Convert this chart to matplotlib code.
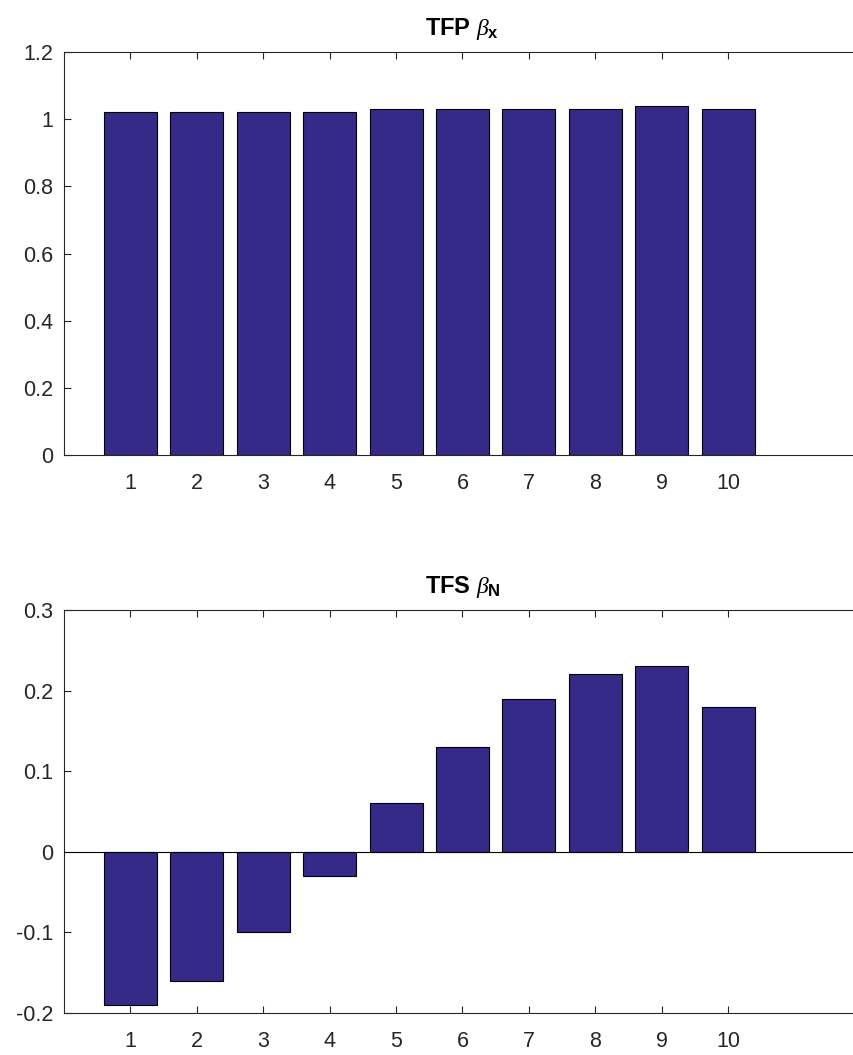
import matplotlib
matplotlib.use('Agg')
import matplotlib.pyplot as plt
import numpy as np

plt.rcParams['font.family'] = ['Liberation Sans', 'DejaVu Sans']
plt.rcParams['mathtext.fontset'] = 'custom'
plt.rcParams['mathtext.rm'] = 'Liberation Sans'
plt.rcParams['mathtext.it'] = 'Liberation Serif:italic'
plt.rcParams['mathtext.bf'] = 'Liberation Sans:bold'

deciles = np.arange(1, 11)
tfp_beta = [1.02, 1.02, 1.02, 1.02, 1.03, 1.03, 1.03, 1.03, 1.04, 1.03]
tfs_beta = [-0.19, -0.16, -0.10, -0.03, 0.06, 0.13, 0.19, 0.22, 0.23, 0.18]

bar_col = '#352a87'
axis_col = '#262626'

fig = plt.figure(figsize=(8.54, 10.55), dpi=100)
ax1 = fig.add_axes([64 / 854, 1 - 455 / 1055, 797 / 854, 403 / 1055])
ax2 = fig.add_axes([64 / 854, 1 - 1013 / 1055, 797 / 854, 403 / 1055])

def style(ax, ylim, yticks, ylabels):
    ax.set_xlim(0, 12)
    ax.set_ylim(*ylim)
    ax.set_xticks(deciles)
    ax.set_yticks(yticks)
    ax.set_yticklabels(ylabels)
    ax.tick_params(direction='in', top=True, right=True, length=5, width=0.8,
                   color=axis_col, labelsize=15.5, labelcolor=axis_col)
    ax.tick_params(axis='x', pad=13)
    ax.tick_params(axis='y', pad=8)
    for s in ax.spines.values():
        s.set_color(axis_col)
        s.set_linewidth(0.8)

ax1.bar(deciles, tfp_beta, width=0.8, color=bar_col, edgecolor='k', linewidth=0.8, zorder=2)
style(ax1, (0, 1.2), [0, 0.2, 0.4, 0.6, 0.8, 1.0, 1.2], ['0', '0.2', '0.4', '0.6', '0.8', '1', '1.2'])
ax1.set_title(r'TFP $\beta_\mathbf{x}$', fontsize=17, fontweight='bold', pad=12)

ax2.bar(deciles, tfs_beta, width=0.8, color=bar_col, edgecolor='k', linewidth=0.8, zorder=2)
ax2.axhline(0, color='k', linewidth=0.8, zorder=3)
style(ax2, (-0.2, 0.3), [-0.2, -0.1, 0, 0.1, 0.2, 0.3], ['-0.2', '-0.1', '0', '0.1', '0.2', '0.3'])
ax2.set_title(r'TFS $\beta_\mathbf{N}$', fontsize=17, fontweight='bold', pad=12)

fig.savefig('out.png', dpi=100)
